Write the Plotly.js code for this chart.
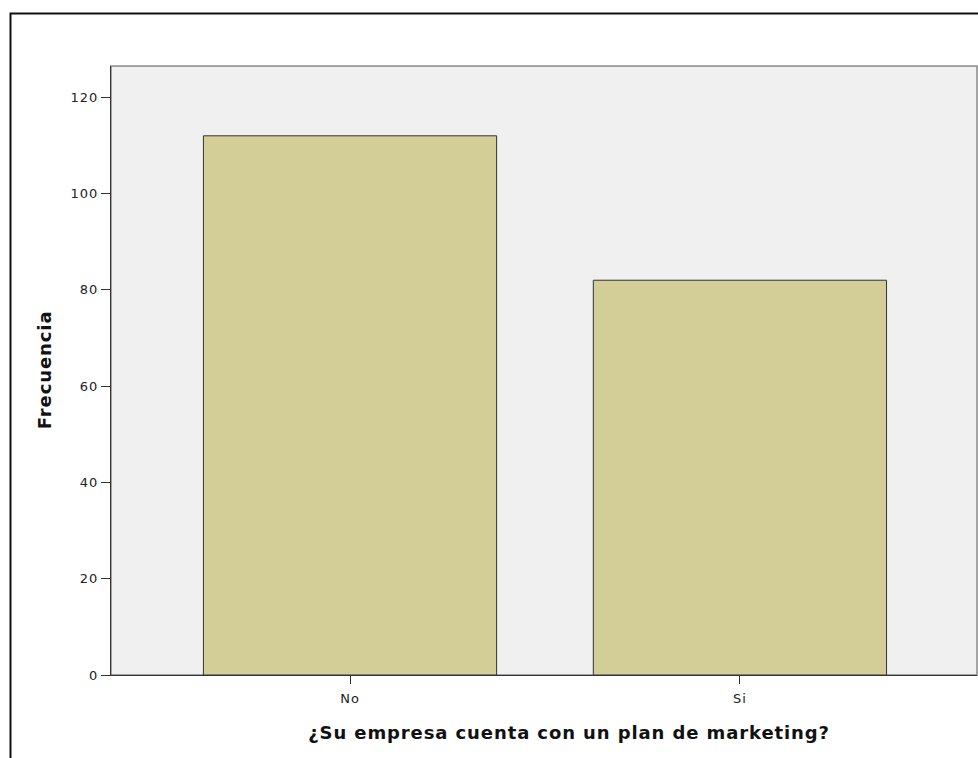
<!DOCTYPE html>
<html>
<head>
<meta charset="utf-8">
<script src="https://cdn.plot.ly/plotly-3.0.1.min.js"></script>
<style>
  html, body { margin: 0; padding: 0; background: #ffffff; overflow: hidden; }
  #chart { width: 978px; height: 758px; }
  #chart .annotation-text { letter-spacing: 0.9px; }
  #chart .xtick text, #chart .ytick text { letter-spacing: 1px; }
</style>
</head>
<body>
<div id="chart"></div>
<script>
const categories = ["No", "Si"];
const frequencies = [112, 82];
const yTickValues = [0, 20, 40, 60, 80, 100, 120];
const xTitle = "¿Su empresa cuenta con un plan de marketing?";
const yTitle = "Frecuencia";

const trace = {
  type: "bar",
  x: [0, 1],
  y: frequencies,
  width: 0.752,
  marker: { color: "#d3ce98", line: { color: "#333333", width: 1 } },
  hoverinfo: "x+y"
};

// plot area: x 111..977, y 66..675.5
const L = 111, R = 977, T = 66, B = 675.5;
const W = R - L, H = B - T;
const px = v => (v - L) / W;
const py = v => (B - v) / H;

const layout = {
  width: 978, height: 758,
  margin: { l: L, r: 978 - R, t: T, b: 758 - B, pad: 0 },
  paper_bgcolor: "#ffffff",
  plot_bgcolor: "#f0f0f0",
  showlegend: false,
  bargap: 0,
  font: { family: "DejaVu Sans, Arial, sans-serif", size: 12, color: "#222222" },
  xaxis: {
    range: [-0.613, 1.608],
    tickmode: "array",
    tickvals: [0, 1],
    ticktext: categories,
    ticks: "outside", ticklen: 8, tickwidth: 1, tickcolor: "#333333",
    ticklabelstandoff: 3,
    showline: true, linecolor: "#333333", linewidth: 1,
    showgrid: false, zeroline: false,
    tickfont: { size: 13, color: "#222222" },
    fixedrange: true
  },
  yaxis: {
    range: [0, 126.5],
    tickmode: "array",
    tickvals: yTickValues,
    ticks: "outside", ticklen: 9, tickwidth: 1, tickcolor: "#333333",
    showline: true, linecolor: "#333333", linewidth: 1,
    showgrid: false, zeroline: false,
    tickfont: { size: 13, color: "#222222" },
    fixedrange: true
  },
  shapes: [
    { type: "rect", xref: "paper", yref: "paper", x0: 0, x1: 1, y0: 0, y1: 1,
      line: { color: "#888888", width: 1.5 }, fillcolor: "rgba(0,0,0,0)", layer: "below" },
    { type: "rect", xref: "paper", yref: "paper",
      x0: px(10.5), x1: px(990), y0: py(780), y1: py(13.5),
      line: { color: "#111111", width: 2 }, fillcolor: "rgba(0,0,0,0)" }
  ],
  annotations: [
    { text: "<b>" + xTitle + "</b>", xref: "paper", yref: "paper",
      x: px(569), y: py(733), xanchor: "center", yanchor: "middle",
      showarrow: false, font: { size: 18, color: "#111111" } },
    { text: "<b>" + yTitle + "</b>", xref: "paper", yref: "paper",
      x: px(45), y: py(370), xanchor: "center", yanchor: "middle", textangle: -90,
      showarrow: false, font: { size: 18, color: "#111111" } }
  ]
};

Plotly.newPlot("chart", [trace], layout, { staticPlot: true, displayModeBar: false });
</script>
</body>
</html>
